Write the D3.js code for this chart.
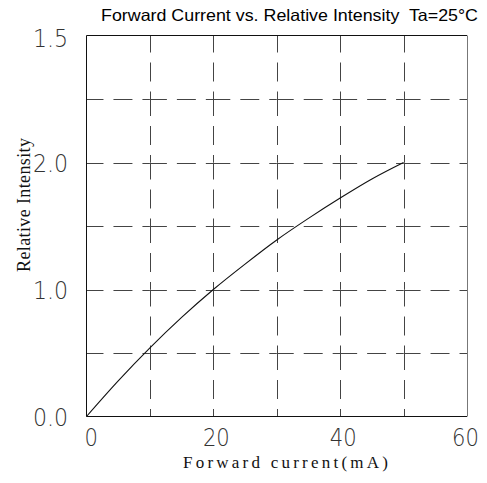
<!DOCTYPE html>
<html>
<head>
<meta charset="utf-8">
<script src="https://cdn.jsdelivr.net/npm/d3@7"></script>
<style>
  html, body { margin: 0; padding: 0; background: #fff; }
  svg { display: block; }
</style>
</head>
<body>
<svg id="chart" width="487" height="483"></svg>
<script>
// ---- data ----
const current = [0, 5, 10, 15, 20, 25, 30, 35, 40, 45, 50];
const intensity = [0, 0.28, 0.54, 0.78, 1.0, 1.2, 1.39, 1.56, 1.72, 1.87, 2.0];
const xTickValues = [0, 20, 40, 60];
const xTickLabels = ["0", "20", "40", "60"];
const yTickValues = [0, 1, 2, 3];
const yTickLabels = ["0.0", "1.0", "2.0", "1.5"];
const xGridValues = [0, 10, 20, 30, 40, 50, 60];
const yGridValues = [0, 0.5, 1, 1.5, 2, 2.5, 3];
const titleText = "Forward Current vs. Relative Intensity  Ta=25°C";
const xLabel = "Forward current(mA)";
const yLabel = "Relative Intensity";

(function () {
// ---- layout ----
const svg = d3.select("#chart");
const pL = 86.5, pR = 467, pT = 35.5, pB = 416.5;
const x = d3.scaleLinear().domain([0, 60]).range([pL, pR]);
const y = d3.scaleLinear().domain([0, 3]).range([pB, pT]);

function dashFor(len) {
  const k = len / 63.5;
  return [17, 10, 19, 10, 7.5].map(v => v * k).join(",");
}

const grid = svg.append("g").attr("stroke", "#444").attr("stroke-width", 1).attr("fill", "none");
yGridValues.slice(1, -1).forEach(v => {
  const yy = Math.round(y(v)) + 0.5;
  for (let i = 0; i < xGridValues.length - 1; i++) {
    const x0 = x(xGridValues[i]), x1 = x(xGridValues[i + 1]);
    grid.append("line").attr("x1", x0).attr("x2", x1).attr("y1", yy).attr("y2", yy)
      .attr("stroke-dasharray", dashFor(x1 - x0));
  }
});
xGridValues.slice(1, -1).forEach(v => {
  const xx = Math.round(x(v)) + 0.5;
  for (let i = yGridValues.length - 1; i > 0; i--) {
    const y0 = y(yGridValues[i]), y1 = y(yGridValues[i - 1]);
    grid.append("line").attr("x1", xx).attr("x2", xx).attr("y1", y0).attr("y2", y1)
      .attr("stroke-dasharray", dashFor(y1 - y0));
  }
});

// frame
const frame = svg.append("g").attr("stroke-width", 1).attr("fill", "none");
frame.append("line").attr("x1", pL).attr("x2", pR).attr("y1", pT).attr("y2", pT).attr("stroke", "#111");
frame.append("line").attr("x1", pL).attr("x2", pR).attr("y1", pB).attr("y2", pB).attr("stroke", "#111");
frame.append("line").attr("x1", pL).attr("x2", pL).attr("y1", pT).attr("y2", pB).attr("stroke", "#111");
frame.append("line").attr("x1", pR + 0.5).attr("x2", pR + 0.5).attr("y1", pT).attr("y2", pB).attr("stroke", "#777");

// curve
const pts = current.map((c, i) => [c, intensity[i]]);
svg.append("path")
  .datum(pts)
  .attr("fill", "none")
  .attr("stroke", "#111")
  .attr("stroke-width", 1.1)
  .attr("d", d3.line().x(d => x(d[0])).y(d => y(d[1])).curve(d3.curveMonotoneX));

// tick labels (thin, narrow digits)
function squeeze(sel, factor) {
  sel.each(function () {
    const w = this.getComputedTextLength();
    d3.select(this).attr("textLength", w * factor).attr("lengthAdjust", "spacingAndGlyphs");
  });
}
const tickFont = "'DejaVu Sans', sans-serif";
const yt = svg.append("g").selectAll("text").data(yTickValues).join("text")
  .attr("x", 68)
  .attr("y", (d, i) => y(d) + (i === yTickValues.length - 1 ? 11 : 9))
  .attr("text-anchor", "end")
  .attr("font-family", tickFont)
  .attr("font-weight", 200)
  .attr("font-size", 24)
  .attr("fill", "#333")
  .text((d, i) => yTickLabels[i]);
squeeze(yt, 0.92);

const xt = svg.append("g").selectAll("text").data(xTickValues).join("text")
  .attr("x", (d, i) => i === 0 ? x(d) - 2 : (i === xTickValues.length - 1 ? x(d) - 1.5 : x(d) + 3))
  .attr("y", 446)
  .attr("text-anchor", (d, i) => i === 0 ? "start" : "middle")
  .attr("font-family", tickFont)
  .attr("font-weight", 200)
  .attr("font-size", 24)
  .attr("fill", "#333")
  .text((d, i) => xTickLabels[i]);
squeeze(xt, 0.88);

// title
svg.append("text")
  .attr("x", 101).attr("y", 21)
  .attr("font-family", "'Liberation Sans', Arial, sans-serif")
  .attr("font-size", 16.5)
  .attr("fill", "#000")
  .style("white-space", "pre")
  .attr("textLength", 377).attr("lengthAdjust", "spacingAndGlyphs")
  .text(titleText);

// x axis label
svg.append("text")
  .attr("x", 183).attr("y", 468)
  .attr("font-family", "'Liberation Serif', serif")
  .attr("font-size", 17)
  .attr("fill", "#111")
  .attr("textLength", 205).attr("lengthAdjust", "spacing")
  .text(xLabel);

// y axis label
svg.append("text")
  .attr("transform", "translate(30,272) rotate(-90)")
  .attr("font-family", "'Liberation Serif', serif")
  .attr("font-size", 18)
  .attr("fill", "#111")
  .attr("textLength", 134).attr("lengthAdjust", "spacing")
  .text(yLabel);
})();
</script>
</body>
</html>
